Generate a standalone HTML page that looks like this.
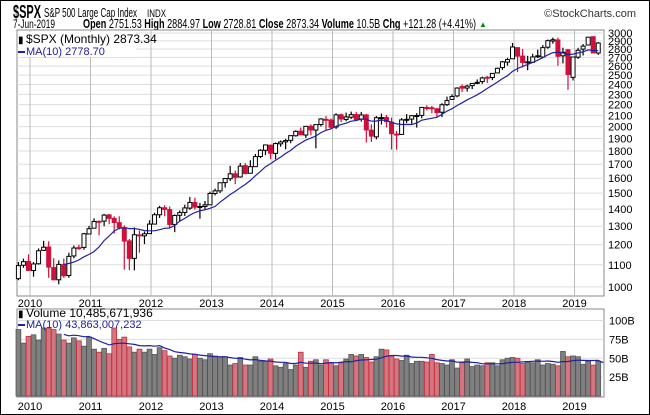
<!DOCTYPE html>
<html><head><meta charset="utf-8"><style>
body{margin:0;background:#fff;}
svg{display:block;font-family:"Liberation Sans",sans-serif;}
</style></head><body>
<svg id="c" width="650" height="415" xmlns="http://www.w3.org/2000/svg">
<rect x="0.5" y="0.5" width="649" height="414" fill="#fff" stroke="#000"/>
<g>
<text x="13" y="18" font-size="18" font-weight="bold" textLength="28" lengthAdjust="spacingAndGlyphs">$SPX</text>
<text x="44" y="17" font-size="13" textLength="93" lengthAdjust="spacingAndGlyphs">S&amp;P 500 Large Cap Index</text>
<text x="147" y="17" font-size="11" textLength="19" lengthAdjust="spacingAndGlyphs">INDX</text>
<text x="636" y="17" font-size="11" text-anchor="end" fill="#333">©StockCharts.com</text>
<text x="13" y="28" font-size="12" textLength="42" lengthAdjust="spacingAndGlyphs">7-Jun-2019</text>
<text x="83" y="28" font-size="12.5" textLength="393" lengthAdjust="spacingAndGlyphs"><tspan font-weight="bold">Open</tspan> 2751.53 <tspan font-weight="bold">High</tspan> 2884.97 <tspan font-weight="bold">Low</tspan> 2728.81 <tspan font-weight="bold">Close</tspan> 2873.34 <tspan font-weight="bold">Volume</tspan> 10.5B <tspan font-weight="bold">Chg</tspan> +121.28 (+4.41%)</text>
<text x="479" y="27" font-size="8" fill="#080">▲</text>
</g>
<g id="price"></g>
<g id="vol"></g>
</svg>
<script>
const closes=[1096,1115,1074,1104,1169,1187,1089,1031,1102,1049,1141,1183,1181,1258,1286,1327,1326,1364,1345,1321,1292,1219,1131,1253,1247,1258,1312,1366,1408,1398,1310,1362,1379,1407,1441,1412,1416,1426,1498,1515,1569,1598,1631,1606,1686,1633,1682,1757,1806,1848,1783,1859,1872,1884,1924,1960,1931,2003,1972,2018,2068,2059,1995,2105,2068,2086,2107,2063,2104,1972,1920,2079,2080,2044,1940,1932,2060,2065,2097,2099,2174,2171,2168,2126,2199,2239,2279,2364,2363,2384,2412,2423,2470,2472,2519,2575,2648,2674,2824,2714,2641,2648,2705,2718,2816,2902,2914,2712,2760,2507,2704,2784,2834,2946,2752,2873];
const opens=[1036,1098,1116,1073,1105,1171,1188,1087,1031,1101,1050,1143,1185,1186,1257,1289,1328,1329,1365,1345,1320,1292,1220,1131,1252,1247,1259,1312,1366,1408,1397,1310,1363,1380,1406,1440,1412,1416,1426,1498,1515,1570,1597,1631,1609,1690,1635,1682,1758,1806,1846,1782,1857,1873,1885,1923,1962,1929,2004,1971,2019,2065,2058,1997,2106,2064,2084,2108,2067,2104,1970,1914,2078,2082,2039,1937,1934,2060,2067,2094,2100,2173,2171,2161,2129,2200,2251,2285,2380,2364,2389,2415,2431,2477,2474,2524,2583,2645,2683,2816,2715,2643,2643,2718,2704,2821,2897,2911,2718,2790,2476,2702,2798,2848,2952,2751];
const highs=[1113,1130,1151,1113,1181,1220,1218,1132,1121,1130,1159,1196,1200,1263,1302,1345,1333,1371,1371,1357,1357,1305,1230,1293,1277,1270,1334,1378,1420,1423,1416,1368,1392,1427,1475,1471,1438,1450,1510,1530,1571,1598,1688,1654,1709,1709,1730,1777,1814,1849,1851,1868,1884,1897,1924,1969,1992,2006,2020,2019,2075,2094,2072,2119,2117,2126,2135,2133,2132,2113,2021,2094,2117,2105,2081,1963,2076,2112,2102,2121,2178,2194,2188,2169,2214,2278,2301,2372,2401,2399,2416,2454,2484,2491,2520,2582,2658,2695,2873,2789,2801,2718,2742,2791,2848,2916,2941,2940,2815,2800,2708,2814,2860,2949,2955,2885];
const lows=[1029,1086,1071,1045,1101,1168,1040,1028,1011,1040,1040,1131,1173,1174,1262,1294,1249,1300,1311,1259,1282,1077,1075,1074,1159,1203,1258,1325,1347,1357,1292,1267,1325,1359,1396,1396,1343,1398,1426,1485,1501,1537,1582,1560,1604,1627,1646,1680,1746,1768,1738,1737,1834,1814,1862,1916,1930,1905,1926,1821,2001,1972,1981,1980,2039,2048,2068,2056,2044,1867,1872,1893,2019,1993,1812,1810,1931,2033,2025,1992,2074,2147,2119,2083,2084,2187,2245,2271,2322,2328,2353,2405,2407,2417,2446,2544,2557,2605,2682,2533,2585,2554,2676,2691,2698,2802,2864,2603,2631,2346,2443,2681,2722,2848,2751,2729];
const volumes=[88,70,79,81,74,90,90,88,82,74,70,77,73,66,78,62,58,63,56,90,75,78,65,58,62,58,62,55,64,60,53,50,54,52,49,55,50,48,56,53,52,52,41,43,51,41,41,52,46,46,49,40,38,43,35,41,58,38,46,48,41,48,44,40,44,49,55,53,55,51,45,52,62,61,53,49,47,54,43,46,46,45,55,44,43,41,48,37,44,49,39,41,40,44,44,40,48,50,51,50,43,45,44,48,41,43,42,40,59,52,53,52,42,46,41,46,10.5];
const priceTicks=[1000,1100,1200,1300,1400,1500,1600,1700,1800,1900,2000,2100,2200,2300,2400,2500,2600,2700,2800,2900,3000];
const volTicks=[25,50,75,100];
const yearLabels=["2010","2011","2012","2013","2014","2015","2016","2017","2018","2019"];

const NS="http://www.w3.org/2000/svg";
function mk(tag,attrs,parent){const e=document.createElementNS(NS,tag);for(const k in attrs)e.setAttribute(k,attrs[k]);parent.appendChild(e);return e;}
const P={l:17,r:604,t:30,b:296};
const V={t:309,b:397};
const xM=m=>28.5+m*5.042;
const xI=i=>xM(i-2);
const yP=v=>33+(Math.log10(3000)-Math.log10(v))*532;
const yV=v=>396-v*0.755;
const yearX=k=>30+k*60.5;
const pg=document.getElementById('price'), vg=document.getElementById('vol');

let r=mk('rect',{x:P.l,y:P.t,width:P.r-P.l,height:P.b-P.t,fill:'#fff',stroke:'#888'},pg);


r=mk('rect',{x:P.l,y:V.t,width:P.r-P.l,height:V.b-V.t,fill:'#fff',stroke:'#888'},vg);



priceTicks.forEach(t=>{const y=yP(t);
 const g=mk('line',{x1:P.l,x2:P.r,y1:y,y2:y,stroke:'#ddd'},pg);
 
 
 const tx=mk('text',{x:P.r+4,y:y+4,'font-size':11},pg);tx.textContent=t;
 
 
});
volTicks.forEach(t=>{const y=yV(t);
 const g=mk('line',{x1:P.l,x2:P.r,y1:y,y2:y,stroke:'#ddd'},vg);
 
 
 const tx=mk('text',{x:P.r+5,y:y+4,'font-size':11},vg);tx.textContent=t+'B';
 
 
});
yearLabels.forEach((lab,k)=>{const x=yearX(k);
 [[P.t,P.b],[V.t,V.b]].forEach(([a,b])=>{const g=mk('line',{x1:x,x2:x,y1:a,y2:b,stroke:'#bbb'},pg);
  
  });
 [307,410].forEach(y=>{const tx=mk('text',{x:x,y:y,'font-size':11,'text-anchor':'middle'},pg);tx.textContent=lab;
  
  });
});

closes.forEach((c,i)=>{const o=opens[i],x=xI(i),down=c<o,col=down?'#d0103a':'#000';
 const g=mk('g',{},pg);
 
 
 mk('line',{x1:x,x2:x,y1:yP(highs[i]),y2:yP(lows[i]),stroke:col,'stroke-width':1.2},g);
 const top=yP(Math.max(o,c)),bot=yP(Math.min(o,c));
 mk('rect',{x:x-2,y:top,width:4,height:Math.max(1,bot-top),fill:down?col:'#fff',stroke:col,'stroke-width':1},g);
 const vy=Math.max(V.t,yV(volumes[i]));
 const vb=mk('rect',{x:x-2.4,y:vy,width:4.8,height:396-vy,fill:down?'#d4757f':'#808080',stroke:down?'#c0303f':'#555','stroke-width':0.8},vg);
 
 
});
function ma(arr,n){return arr.map((v,i)=>i<n-1?null:arr.slice(i-n+1,i+1).reduce((a,b)=>a+b,0)/n);}
const pm=ma(closes,10),vm=ma(volumes,10);
let d='';pm.forEach((v,i)=>{if(v!=null)d+=(d?'L':'M')+xI(i).toFixed(1)+','+yP(v).toFixed(1);});
let l=mk('path',{d:d,fill:'none',stroke:'#2020a0','stroke-width':1.2},pg);


d='';vm.forEach((v,i)=>{if(v!=null)d+=(d?'L':'M')+xI(i).toFixed(1)+','+Math.max(V.t,yV(v)).toFixed(1);});
l=mk('path',{d:d,fill:'none',stroke:'#2020a0','stroke-width':1.2},vg);



function legend(parent,y,txt,col,name,sw){const g=mk('g',{},parent);
 
 
 if(sw=='line')mk('rect',{x:18,y:y-4,width:7,height:2,fill:col},g);
 else mk('text',{x:18,y:y,'font-size':10,fill:'#000'},g).textContent='▮';
 const t=mk('text',{x:26,y:y,'font-size':sw=='line'?11:12,fill:col},g);t.textContent=txt;}
const bg=mk('rect',{x:18,y:32,width:118,height:25,fill:'#fff'},pg);


legend(pg,43,'$SPX (Monthly) 2873.34','#000','price-legend','bar');
legend(pg,55,'MA(10) 2778.70','#2020a0','price-ma-legend','line');
legend(vg,317,'Volume 10,485,671,936','#000','volume-legend','bar');
legend(vg,328,'MA(10) 43,863,007,232','#2020a0','volume-ma-legend','line');
</script>
</body></html>
